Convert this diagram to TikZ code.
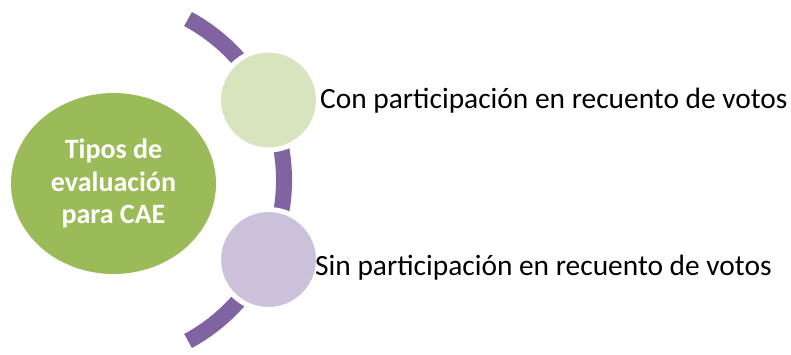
\documentclass[tikz,border=0pt]{standalone}
\usepackage{fontspec}
\setmainfont{Carlito}
\usetikzlibrary{shapes.geometric,calc}
\definecolor{arcpurple}{HTML}{8064A2}
\definecolor{maingreen}{HTML}{9BBB59}
\definecolor{lightgreen}{HTML}{D7E4BD}
\definecolor{lightpurple}{HTML}{CCC1DA}
\tikzset{
  bubble/.style={circle, inner sep=0pt, minimum size=100pt, draw=white, line width=5pt},
  itemtext/.style={anchor=base west, inner sep=0pt, font=\fontsize{29.4}{34}\selectfont, text=black},
  hub/.style={ellipse, inner sep=0pt, minimum width=205pt, minimum height=181pt, fill=maingreen,
    text=white, align=center, font=\fontsize{28}{32.5}\selectfont\bfseries}
}
\begin{document}
\begin{tikzpicture}[x=1pt,y=1pt]
\useasboundingbox (0,0) rectangle (791,-354);
\coordinate (arcstart) at ($(101,-180)+(61.6:183)$);
\draw[arcpurple, line width=16pt] (arcstart) arc[start angle=61.6, end angle=-61.6, radius=183pt];
\node[hub] (hub) at (113.5,-183.5) {Tipos de\\evaluación\\para CAE};
\node[bubble, fill=lightgreen] (b1) at (268.5,-100) {};
\node[bubble, fill=lightpurple] (b2) at (268.5,-259.5) {};
\node[itemtext] (t1) at (320,-108) {Con participación en recuento de votos};
\node[itemtext] (t2) at (315,-275.5) {Sin participación en recuento de votos};
\end{tikzpicture}
\end{document}
